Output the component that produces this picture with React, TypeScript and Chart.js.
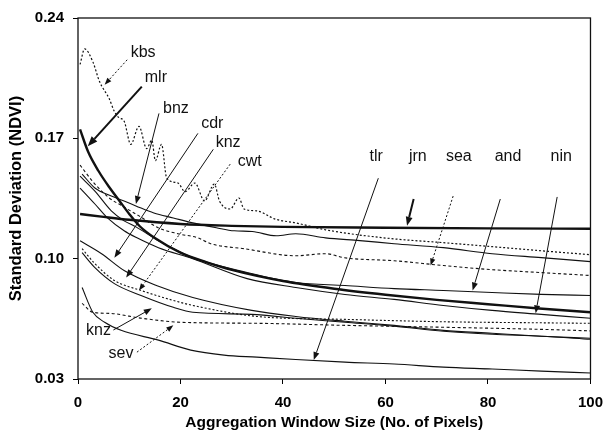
import { useEffect, useRef } from 'react';
import { Chart, registerables } from 'chart.js';

Chart.register(...registerables);

type Pt = [number, number];

// Standard deviation of NDVI against aggregation window size, one curve per site.
const kbs: Pt[] = [
  [0.4, 0.213], [1.3, 0.222], [2.9, 0.2145], [4.2, 0.203], [6.1, 0.193], [7.1, 0.1856],
  [8.0, 0.182], [9.0, 0.18], [10.3, 0.1665], [11.9, 0.177], [13.4, 0.164], [14.4, 0.169],
  [15.1, 0.157], [16.3, 0.1665], [17.3, 0.147], [19.5, 0.144], [20.9, 0.139], [22.8, 0.144],
  [24.7, 0.1336], [26.6, 0.1434], [27.6, 0.1336], [29.7, 0.1289], [31.4, 0.1353], [32.4, 0.1289],
  [34.9, 0.1278], [38.5, 0.123], [42.5, 0.1208], [48.3, 0.1168], [60, 0.112], [71.3, 0.1093],
  [80.8, 0.107], [90.4, 0.1046], [100, 0.1023],
];
const mlr: Pt[] = [
  [0.4, 0.1752], [2, 0.162], [4, 0.151], [6, 0.142], [8, 0.134], [10, 0.126], [12, 0.119],
  [15, 0.112], [20, 0.1035], [25, 0.098], [30, 0.0935], [40, 0.087], [50, 0.0825], [60, 0.079],
  [70, 0.076], [80, 0.0735], [90, 0.071], [100, 0.0688],
];
const jrn: Pt[] = [
  [0.4, 0.126], [5, 0.1243], [10, 0.1226], [20, 0.1202], [30, 0.1191], [40, 0.1185],
  [60, 0.118], [80, 0.1176], [100, 0.1174],
];
const bnz: Pt[] = [
  [0.8, 0.1492], [3.3, 0.1411], [6.5, 0.1364], [9, 0.1335], [11.3, 0.1307], [14.8, 0.1266],
  [18.6, 0.1237], [22.4, 0.1208], [27, 0.118], [30.5, 0.1162], [34, 0.1158], [38.7, 0.1133],
  [42.5, 0.1145], [48.3, 0.1121], [55, 0.1105], [61.7, 0.1087], [71.3, 0.1064], [80.8, 0.1029],
  [90.4, 0.1006], [100, 0.0983],
];
const sea: Pt[] = [
  [0.4, 0.1544], [3.3, 0.1434], [6.1, 0.1353], [8.6, 0.1307], [11.9, 0.1249], [15.7, 0.1179],
  [19.5, 0.1145], [23.4, 0.1121], [25.9, 0.1087], [32.4, 0.1058], [42.5, 0.1017], [48.3, 0.1029],
  [52, 0.1005], [61.7, 0.0988], [71.3, 0.096], [80.8, 0.0936], [90.4, 0.0919], [100, 0.0902],
];
const and: Pt[] = [
  [0.4, 0.148], [3.3, 0.1393], [6.5, 0.1278], [9, 0.122], [11.3, 0.1185], [15.7, 0.1104],
  [22.4, 0.1006], [33, 0.0919], [42.5, 0.0861], [52.1, 0.0844], [61.7, 0.0826], [71.3, 0.0815],
  [80.8, 0.0803], [90.4, 0.0792], [100, 0.0786],
];
const nin: Pt[] = [
  [0.4, 0.1411], [3.3, 0.1318], [5.75, 0.1237], [9, 0.1162], [11.5, 0.1121], [15.7, 0.1064],
  [22.4, 0.1], [33, 0.0884], [42.5, 0.0832], [52.1, 0.0792], [61.7, 0.0763], [71.3, 0.0728],
  [80.8, 0.0699], [90.4, 0.0676], [100, 0.0653],
];
const cdr: Pt[] = [
  [0.4, 0.1104], [4.6, 0.1029], [9, 0.0931], [15.3, 0.0844], [22.4, 0.0774], [33.9, 0.0699],
  [42.5, 0.0664], [52.1, 0.0636], [61.7, 0.0612], [71.3, 0.0583], [80.8, 0.0566], [90.4, 0.0549],
  [100, 0.0537],
];
const knz: Pt[] = [
  [0.8, 0.1035], [3.3, 0.0948], [7.1, 0.0855], [12.3, 0.0786], [18.6, 0.0717], [22.4, 0.0688],
  [33.9, 0.0676], [42.5, 0.0653], [52.1, 0.063], [61.7, 0.0607], [71.3, 0.0578], [80.8, 0.056],
  [90.4, 0.0549], [100, 0.0531],
];
const cwt: Pt[] = [
  [0.8, 0.1058], [3.3, 0.0971], [7.1, 0.0873], [12.3, 0.0815], [18.6, 0.0757], [22.4, 0.0728],
  [34.9, 0.0664], [52.1, 0.0647], [71.3, 0.0633], [90, 0.0627], [100, 0.0624],
];
const sev: Pt[] = [
  [0.8, 0.074], [2.9, 0.0688], [6.1, 0.0682], [12.5, 0.0653], [20.1, 0.063], [34.9, 0.0624],
  [52.1, 0.0612], [71.3, 0.0601], [90, 0.0589], [100, 0.058],
];
const tlr: Pt[] = [
  [0.8, 0.0832], [2.9, 0.0688], [5.2, 0.063], [8.4, 0.0583], [15.7, 0.0526], [22, 0.0468],
  [28.5, 0.0439], [34.9, 0.0427], [42.5, 0.0413], [52.1, 0.0398], [61.7, 0.0387], [71.3, 0.0369],
  [80.8, 0.0358], [90.4, 0.0346], [100, 0.0335],
];

const xTicks = [0, 20, 40, 60, 80, 100];
const yTicks = [0.03, 0.1, 0.17, 0.24];

const ink = '#111';
const FONT = '"Liberation Sans", Arial, Helvetica, sans-serif';

const DOT = [2, 2];
const DASH = [3, 2.5];

const series = [
  { name: 'kbs', pts: kbs, width: 1.2, dash: DOT },
  { name: 'sea', pts: sea, width: 1.1, dash: DASH },
  { name: 'cwt', pts: cwt, width: 1.1, dash: DOT },
  { name: 'sev', pts: sev, width: 1.1, dash: DASH },
  { name: 'bnz', pts: bnz, width: 1.1, dash: [] },
  { name: 'and', pts: and, width: 1.1, dash: [] },
  { name: 'nin', pts: nin, width: 1.1, dash: [] },
  { name: 'cdr', pts: cdr, width: 1.1, dash: [] },
  { name: 'knz', pts: knz, width: 1.1, dash: [] },
  { name: 'tlr', pts: tlr, width: 1.1, dash: [] },
  { name: 'jrn', pts: jrn, width: 2.4, dash: [] },
  { name: 'mlr', pts: mlr, width: 2.4, dash: [] },
];

// Site labels with leader arrows: text position, arrow start, arrow tip (data units).
const callouts = [
  { text: 'kbs', at: [12.7, 0.2197], from: [9.6, 0.2157], to: [5.2, 0.2012], dash: DOT, width: 1, head: 7 },
  { text: 'mlr', at: [15.2, 0.2053], from: [12.45, 0.2001], to: [1.9, 0.1654], dash: [], width: 2, head: 10 },
  { text: 'bnz', at: [19.1, 0.1871], from: [15.8, 0.1845], to: [11.3, 0.1318], dash: [], width: 1, head: 8 },
  { text: 'cdr', at: [26.2, 0.1787], from: [23.4, 0.1729], to: [7.1, 0.1006], dash: [], width: 1, head: 8 },
  { text: 'knz', at: [29.3, 0.1674], from: [26.4, 0.1636], to: [9.4, 0.089], dash: [], width: 1, head: 8 },
  { text: 'cwt', at: [33.5, 0.1567], from: [29.7, 0.155], to: [11.9, 0.0815], dash: DOT, width: 1, head: 7 },
  { text: 'tlr', at: [58.2, 0.1596], from: [58.6, 0.1468], to: [46, 0.041], dash: [], width: 1, head: 8 },
  { text: 'jrn', at: [66.3, 0.1596], from: [65.5, 0.1347], to: [64.2, 0.1191], dash: [], width: 2, head: 9 },
  { text: 'sea', at: [74.3, 0.1596], from: [73.2, 0.1364], to: [68.8, 0.096], dash: DOT, width: 1, head: 7 },
  { text: 'and', at: [83.9, 0.1596], from: [82.4, 0.1347], to: [77.0, 0.0815], dash: [], width: 1, head: 8 },
  { text: 'nin', at: [94.3, 0.1596], from: [93.5, 0.1359], to: [89.3, 0.0682], dash: [], width: 1, head: 8 },
  { text: 'knz', at: [4.0, 0.058], from: [6.9, 0.0585], to: [14.4, 0.0711], dash: [], width: 1, head: 8 },
  { text: 'sev', at: [8.4, 0.0445], from: [11.5, 0.0456], to: [18.6, 0.0612], dash: DOT, width: 1, head: 7 },
];

const calloutPlugin = {
  id: 'callouts',
  afterDatasetsDraw(chart: any) {
    const { ctx } = chart;
    const xs = chart.scales.x;
    const ys = chart.scales.y;
    ctx.save();
    ctx.strokeStyle = ink;
    ctx.fillStyle = ink;
    for (const c of callouts) {
      const x0 = xs.getPixelForValue(c.from[0]);
      const y0 = ys.getPixelForValue(c.from[1]);
      const x1 = xs.getPixelForValue(c.to[0]);
      const y1 = ys.getPixelForValue(c.to[1]);
      const a = Math.atan2(y1 - y0, x1 - x0);
      const bx = x1 - c.head * Math.cos(a);
      const by = y1 - c.head * Math.sin(a);
      ctx.lineWidth = c.width;
      ctx.setLineDash(c.dash);
      ctx.beginPath();
      ctx.moveTo(x0, y0);
      ctx.lineTo(bx, by);
      ctx.stroke();
      ctx.setLineDash([]);
      const hw = c.head * 0.38;
      ctx.beginPath();
      ctx.moveTo(x1, y1);
      ctx.lineTo(bx + hw * Math.sin(a), by - hw * Math.cos(a));
      ctx.lineTo(bx - hw * Math.sin(a), by + hw * Math.cos(a));
      ctx.closePath();
      ctx.fill();
    }
    ctx.font = `16px ${FONT}`;
    ctx.textAlign = 'center';
    ctx.textBaseline = 'middle';
    for (const c of callouts) {
      ctx.fillText(c.text, xs.getPixelForValue(c.at[0]), ys.getPixelForValue(c.at[1]));
    }
    ctx.restore();
  },
  afterDraw(chart: any) {
    const { ctx, chartArea: a } = chart;
    ctx.save();
    ctx.strokeStyle = ink;
    ctx.lineWidth = 1.3;
    ctx.strokeRect(a.left, a.top, a.right - a.left, a.bottom - a.top);
    ctx.restore();
  },
};

export default function App() {
  const ref = useRef<HTMLCanvasElement | null>(null);

  useEffect(() => {
    if (!ref.current) return;
    const chart = new Chart(ref.current, {
      type: 'line',
      data: {
        datasets: series.map((s) => ({
          label: s.name,
          data: s.pts.map(([x, y]) => ({ x, y })),
          borderColor: ink,
          borderWidth: s.width,
          borderDash: s.dash,
          pointRadius: 0,
          fill: false,
          cubicInterpolationMode: 'monotone' as const,
        })),
      },
      options: {
        responsive: false,
        devicePixelRatio: 1,
        animation: false,
        layout: { padding: { top: 16, right: 13, left: 0, bottom: 0 } },
        plugins: { legend: { display: false }, tooltip: { enabled: false } },
        scales: {
          x: {
            type: 'linear',
            min: 0,
            max: 100,
            afterBuildTicks: (s: any) => { s.ticks = xTicks.map((value) => ({ value })); },
            afterFit: (s: any) => { s.height = 57; },
            ticks: {
              color: '#000',
              padding: 10,
              maxRotation: 0,
              autoSkip: false,
              font: { family: FONT, size: 15, weight: 'bold' },
              callback: (v: any) => String(v),
            },
            grid: { display: true, drawOnChartArea: false, drawTicks: true, tickLength: 5, color: '#000' },
            border: { display: false },
            title: {
              display: true,
              text: 'Aggregation Window Size (No. of Pixels)',
              color: '#000',
              font: { family: FONT, size: 15.5, weight: 'bold' },
              padding: { top: 0, bottom: 4 },
            },
          },
          y: {
            type: 'linear',
            min: 0.03,
            max: 0.24,
            afterBuildTicks: (s: any) => { s.ticks = yTicks.map((value) => ({ value })); },
            afterFit: (s: any) => { s.width = 78; },
            ticks: {
              color: '#000',
              padding: 9,
              autoSkip: false,
              font: { family: FONT, size: 15, weight: 'bold' },
              callback: (v: any) => Number(v).toFixed(2),
            },
            grid: { display: true, drawOnChartArea: false, drawTicks: true, tickLength: 5, color: '#000' },
            border: { display: false },
            title: {
              display: true,
              text: 'Standard Deviation (NDVI)',
              color: '#000',
              font: { family: FONT, size: 16.5, weight: 'bold' },
              padding: { top: 7, bottom: 0 },
            },
          },
        },
      },
      plugins: [calloutPlugin],
    });
    return () => chart.destroy();
  }, []);

  return (
    <div style={{ position: 'fixed', left: 0, top: 0, width: 613, height: 436, background: '#fff' }}>
      <canvas ref={ref} width={613} height={436} style={{ display: 'block' }} />
    </div>
  );
}
